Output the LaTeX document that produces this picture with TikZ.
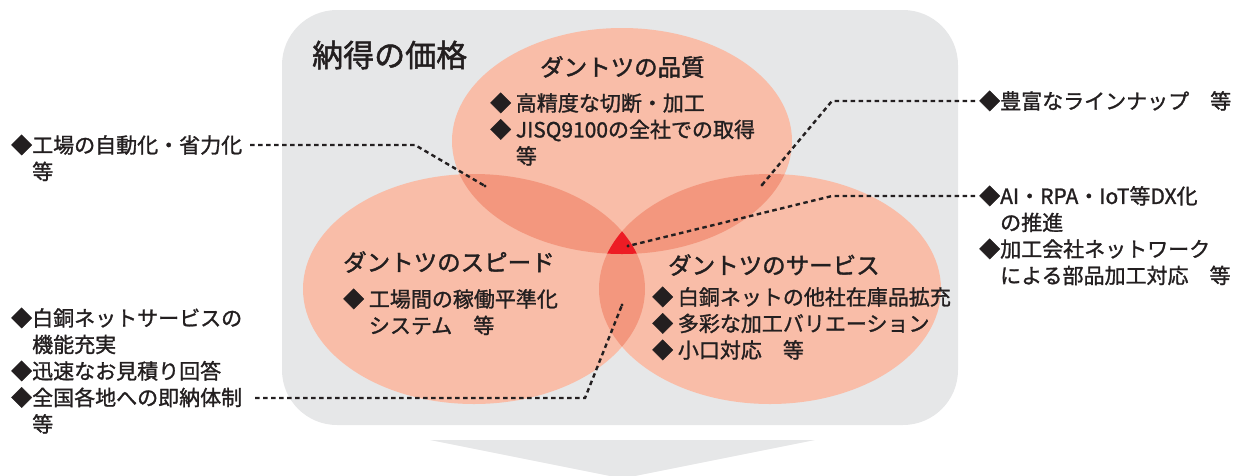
\documentclass[tikz,border=0pt]{standalone}
\usepackage{fontspec}
\setmainfont{Noto Sans CJK JP}[FakeBold=1.3]
\newfontfamily\titlefont{Noto Sans CJK JP}[FakeBold=1.6]
\definecolor{boxgray}{RGB}{230,231,232}
\definecolor{pinklight}{RGB}{249,189,168}
\definecolor{pinkdark}{RGB}{243,151,126}
\definecolor{centerred}{RGB}{237,28,36}
\definecolor{ink}{RGB}{35,31,32}
\newcommand\fsBody{\fontsize{21}{26.5}\selectfont}
\newcommand\fsTitle{\titlefont\fontsize{23.5}{28}\selectfont}
\newcommand\fsBig{\titlefont\fontsize{31}{36}\selectfont}
\newcommand\ellTop{(622,141) ellipse [x radius=170, y radius=113]}
\newcommand\ellLeft{(474,289) ellipse [x radius=171, y radius=115]}
\newcommand\ellRight{(770,289) ellipse [x radius=171, y radius=115]}
\tikzset{
  body/.style={anchor=north west, inner sep=0pt, align=left, text=ink, font=\fsBody},
  title/.style={anchor=west, inner sep=0pt, text=ink, font=\fsTitle},
  leader/.style={draw=ink, line width=2.4pt, dash pattern=on 4.5pt off 3.5pt},
  enddot/.style={fill=ink},
}
\begin{document}
\begin{tikzpicture}[x=1pt,y=-1pt]
\useasboundingbox (0,0) rectangle (1237,475);
\clip (0,0) rectangle (1237,475);
% background box and arrow
\fill[boxgray, rounded corners=55pt] (282,10) rectangle (958,425);
\fill[boxgray] (430,440) -- (815,440) -- (622.5,478.5) -- cycle;
% ellipses
\fill[pinklight] \ellTop;
\fill[pinklight] \ellLeft;
\fill[pinklight] \ellRight;
\begin{scope}\clip \ellTop; \fill[pinkdark] \ellLeft; \fill[pinkdark] \ellRight; \end{scope}
\begin{scope}\clip \ellLeft; \fill[pinkdark] \ellRight; \end{scope}
\begin{scope}\clip \ellTop; \clip \ellLeft; \fill[centerred] \ellRight; \end{scope}
% texts inside
\node[anchor=west, inner sep=0pt, text=ink, font=\fsBig] (price) at (312,55) {納得の価格};
\node[title] (qtitle) at (540,67) {ダントツの品質};
\node[body] (qbody) at (490,92.5) {◆ 高精度な切断・加工\\◆ JISQ9100の全社での取得\\\phantom{◆ }等};
\node[title] (stitle) at (343,262) {ダントツのスピード};
\node[body] (sbody) at (343,288.5) {◆ 工場間の稼働平準化\\\phantom{◆ }システム　等};
\node[title] (vtitle) at (668,265) {ダントツのサービス};
\node[body] (vbody) at (652,286.5) {◆ 白銅ネットの他社在庫品拡充\\◆ 多彩な加工バリエーション\\◆ 小口対応　等};
% outside texts
\node[body] (l1) at (11,134.5) {◆工場の自動化・省力化\\\phantom{◆}等};
\node[body] (l2) at (11,307.5) {◆白銅ネットサービスの\\\phantom{◆}機能充実\\◆迅速なお見積り回答\\◆全国各地への即納体制\\\phantom{◆}等};
\node[body] (r1) at (979,90.5) {◆豊富なラインナップ　等};
\node[body] (r2) at (979,185.5) {◆AI・RPA・IoT等DX化\\\phantom{◆}の推進\\◆加工会社ネットワーク\\\phantom{◆}による部品加工対応　等};
% leader coordinates
\coordinate (l1s) at (250,145);
\coordinate (l1k) at (415,145);
\coordinate (l1e) at (485,186);
\coordinate (r1s) at (975,101);
\coordinate (r1k) at (832,101);
\coordinate (r1e) at (762,185);
\coordinate (r2s) at (975,196);
\coordinate (r2k) at (832,196);
\coordinate (r2e) at (628,246);
\coordinate (l2s) at (255,398);
\coordinate (l2k) at (585,398);
\coordinate (l2e) at (622,305);
\draw[leader] (l1s) -- (l1k) -- (l1e);
\draw[leader] (r1s) -- (r1k) -- (r1e);
\draw[leader] (r2s) -- (r2k) -- (r2e);
\draw[leader] (l2s) -- (l2k) -- (l2e);
\foreach \p in {l1e,r1e,r2e,l2e} \fill[enddot] (\p) circle (1.6pt);
\end{tikzpicture}
\end{document}
